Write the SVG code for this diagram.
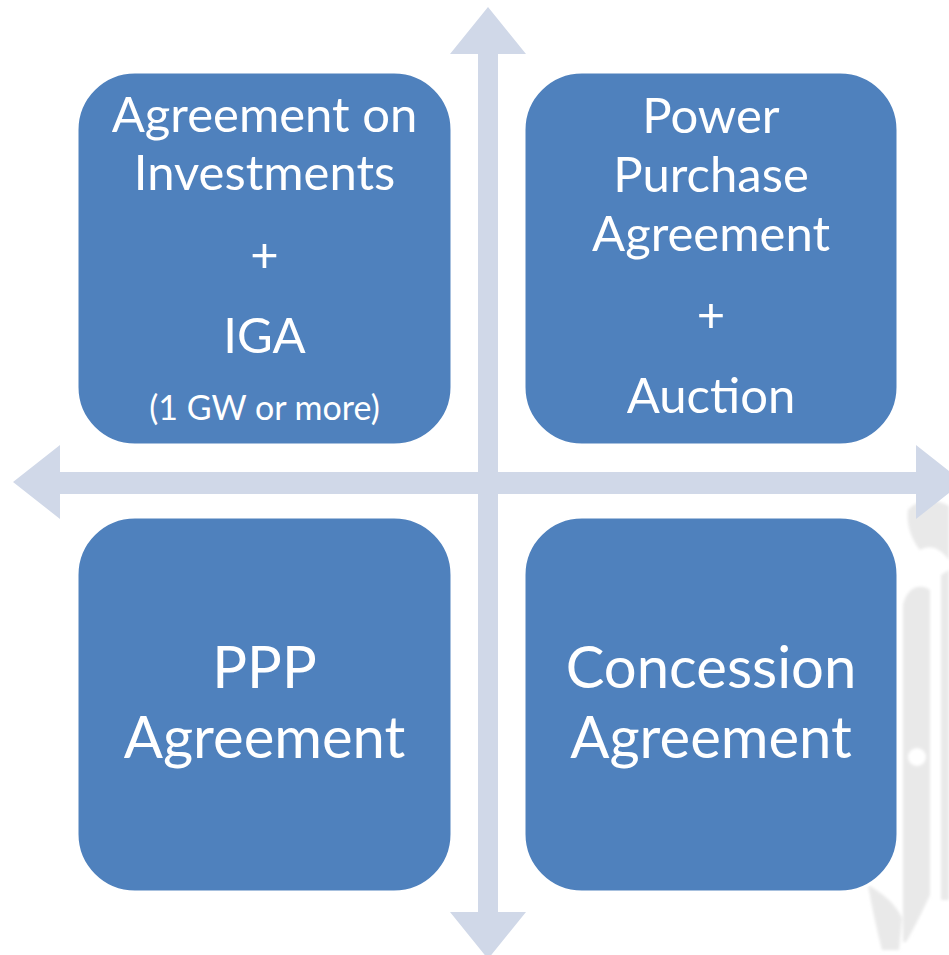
<svg xmlns="http://www.w3.org/2000/svg" width="949" height="955" viewBox="0 0 949 955">
  <defs>
    <filter id="soft" x="-10%" y="-10%" width="120%" height="120%">
      <feGaussianBlur stdDeviation="1.5"/>
    </filter>
  </defs>
  <style>
    .box { fill: #4f81bd; stroke: #ffffff; stroke-width: 3; }
    .axis { fill: #d0d8e8; }
    .mark { fill: #e9e9e9; }
    text { font-family: Lato, "Open Sans", "Liberation Sans", sans-serif; fill: #ffffff; text-anchor: middle; }
    .big { font-size: 58px; }
    .mid { font-size: 49px; }
    .small { font-size: 34px; }
  </style>

  <rect width="949" height="955" fill="#ffffff"/>

  <!-- faint ornament along the right edge -->
  <g id="ornament" filter="url(#soft)">
    <path class="mark" d="M908 510 C918 498 936 498 949 506 L949 560 C940 548 930 544 920 550 C912 540 906 525 908 510 Z"/>
    <path class="mark" d="M903 605 C906 590 918 582 930 590 L930 895 C922 912 914 928 906 942 L903 942 Z"/>
    <path class="mark" d="M941 575 L949 570 L949 900 L941 900 Z"/>
    <path class="mark" d="M868 885 C882 893 895 903 902 918 L899 950 L882 950 C877 930 872 908 868 885 Z"/>
    <circle cx="917" cy="757" r="9" fill="#ffffff"/>
  </g>

  <!-- axis cross with arrowheads -->
  <g id="connectors">
    <polygon class="axis" points="488,7 526,54 498,54 498,912 526,912 488,959 450,912 478,912 478,54 450,54"/>
    <polygon class="axis" points="13,482 60,445 60,472 916,472 916,445 963,482 916,519 916,494 60,494 60,519"/>
  </g>

  <g id="investments">
    <rect class="box" x="77" y="72" width="375" height="373" rx="58"/>
    <text class="mid" x="264.5" y="132">Agreement on</text>
    <text class="mid" x="264.5" y="190">Investments</text>
    <text class="mid" x="264.5" y="272">+</text>
    <text class="mid" x="264.5" y="353">IGA</text>
    <text class="small" x="264.5" y="420">(1 GW or more)</text>
  </g>

  <g id="ppa">
    <rect class="box" x="524" y="72" width="374" height="373" rx="58"/>
    <text class="mid" x="711" y="133">Power</text>
    <text class="mid" x="711" y="192">Purchase</text>
    <text class="mid" x="711" y="251">Agreement</text>
    <text class="mid" x="711" y="332">+</text>
    <text class="mid" x="711" y="413">Auction</text>
  </g>

  <g id="ppp">
    <rect class="box" x="77" y="517" width="375" height="375" rx="58"/>
    <text class="big" x="264.5" y="688">PPP</text>
    <text class="big" x="264.5" y="758">Agreement</text>
  </g>

  <g id="concession">
    <rect class="box" x="524" y="517" width="374" height="375" rx="58"/>
    <text class="big" x="711" y="688">Concession</text>
    <text class="big" x="711" y="758">Agreement</text>
  </g>
</svg>
